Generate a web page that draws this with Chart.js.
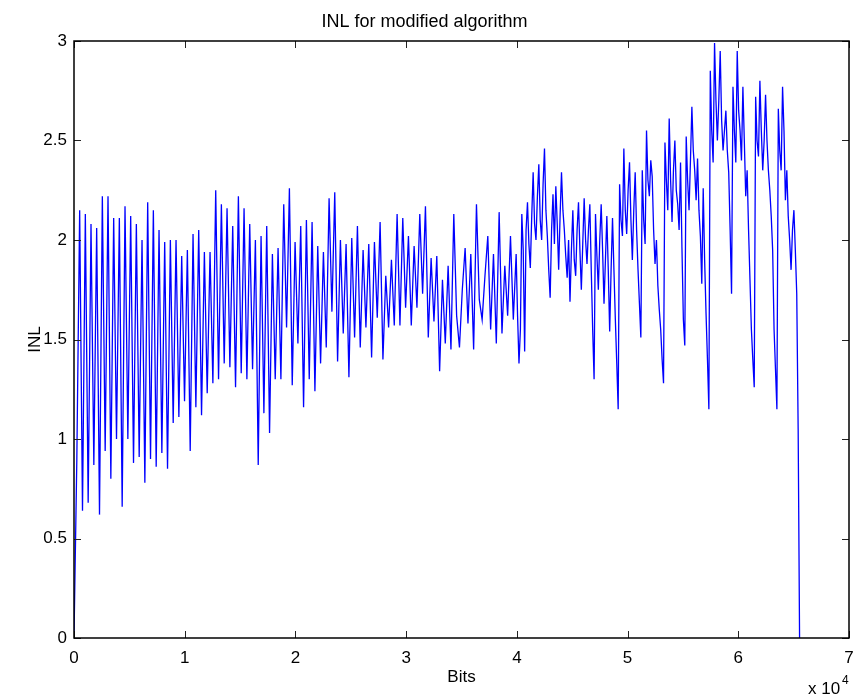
<!DOCTYPE html>
<html>
<head>
<meta charset="utf-8">
<title>INL for modified algorithm</title>
<script src="https://cdn.jsdelivr.net/npm/chart.js@4.4.1/dist/chart.umd.min.js"></script>
<style>
  body { margin: 0; background: #fff; }
  canvas { display: block; }
</style>
</head>
<body>
<canvas id="inlChart" width="854" height="696"></canvas>
<script>
// values. x axis is in units of 10^4 bits.
// first part: one sample every 256 codes (sawtooth teeth, period ~512 codes)
const coarseStep = 256;
const coarseInl = [
  0, 0.9, 2.15, 0.64, 2.13, 0.68, 2.08, 0.87, 2.06, 0.62,
  2.22, 0.94, 2.22, 0.80, 2.11, 1.0, 2.11, 0.66, 2.17, 1.0,
  2.12, 0.88, 2.08, 0.91, 2.0, 0.78, 2.19, 0.90, 2.15, 0.86,
  2.05, 0.93, 1.99, 0.85, 2.0, 1.08, 2.0, 1.11, 1.92, 1.19,
  1.95, 0.94, 2.03, 1.16, 2.05, 1.12, 1.94, 1.23, 1.94, 1.28,
  2.25, 1.30, 2.18, 1.38, 2.16, 1.36, 2.07, 1.26, 2.22, 1.33,
  2.16, 1.30, 2.08, 1.35, 2.0, 0.87, 2.02, 1.13, 2.07, 1.03,
  1.93, 1.30, 1.96, 1.30, 2.18, 1.56, 2.26, 1.27, 1.99, 1.48,
  2.07, 1.16, 2.10, 1.30, 2.09, 1.24, 1.97, 1.38, 1.94, 1.46,
  2.21, 1.64, 2.24, 1.39, 2.0, 1.53, 1.98, 1.31, 2.01, 1.51,
  2.07, 1.46, 1.95, 1.56, 1.98, 1.41, 1.99, 1.61, 2.09, 1.40,
  1.82, 1.56, 1.90, 1.57, 2.13, 1.57, 2.11, 1.66, 2.02, 1.57,
  1.97, 1.66, 2.13, 1.73, 2.17, 1.51, 1.91, 1.59, 1.92, 1.34,
  1.80, 1.48, 1.87, 1.45, 2.13, 1.62, 1.46, 1.75, 1.96, 1.58,
  1.93, 1.45, 2.18, 1.70, 1.60, 1.82, 2.02, 1.55, 1.93, 1.48,
  2.14, 1.53, 1.87, 1.62, 2.02, 1.60
];
// second part (noisier band with deep dips): one sample every 128 codes
const fineStart = 39936;
const fineStep = 128;
const fineInl = [
  1.93, 1.62, 1.38, 1.55, 2.13, 1.95, 1.44, 2.05, 2.19, 1.98,
  1.86, 2.12, 2.34, 2.08, 2.0, 2.22, 2.38, 2.10, 2.0, 2.28,
  2.46, 2.15, 2.02, 1.85, 1.71, 2.05, 2.23, 1.98, 2.27, 2.08,
  1.85, 2.12, 2.34, 2.15, 2.05, 1.92, 1.81, 2.0, 1.69, 1.95,
  2.15, 1.90, 1.82, 2.05, 2.19, 1.95, 1.75, 1.98, 2.21, 2.0,
  1.88, 2.05, 2.18, 1.85, 1.55, 1.30, 2.13, 1.92, 1.75, 2.0,
  2.18, 1.95, 1.68, 1.90, 2.12, 1.85, 1.54, 1.85, 2.11, 1.85,
  1.60, 1.38, 1.15, 2.28, 2.10, 2.02, 2.46, 2.15, 2.03, 2.25,
  2.39, 2.10, 1.90, 2.15, 2.34, 2.05, 1.85, 1.68, 1.51, 2.35,
  2.10, 1.98, 2.55, 2.30, 2.22, 2.40, 2.32, 2.05, 1.88, 2.00,
  1.77, 1.65, 1.55, 1.40, 1.28, 2.49, 2.30, 2.15, 2.61, 2.30,
  2.09, 2.35, 2.50, 2.25, 2.18, 2.05, 2.39, 1.96, 1.60, 1.47,
  2.52, 2.30, 2.15, 2.40, 2.67, 2.45, 2.35, 2.20, 2.41, 2.15,
  2.02, 1.78, 2.26, 1.90, 1.63, 1.40, 1.15, 2.85, 2.55, 2.39,
  2.99, 2.70, 2.50, 2.70, 2.95, 2.60, 2.45, 2.55, 2.65, 2.45,
  2.34, 2.05, 1.73, 2.77, 2.55, 2.39, 2.95, 2.65, 2.55, 2.40,
  2.77, 2.50, 2.22, 2.35, 2.05, 1.80, 1.55, 1.40, 1.26, 2.72,
  2.50, 2.42, 2.80, 2.55, 2.35, 2.50, 2.73, 2.50, 2.35, 2.25,
  2.12, 1.95, 1.55, 1.35, 1.15, 2.66, 2.45, 2.35, 2.77, 2.55,
  2.20, 2.35, 2.12, 2.00, 1.85, 2.05, 2.15, 1.95, 1.73, 1.05,
  0
];
const xTickLabels = ['0', '1', '2', '3', '4', '5', '6', '7'];
const yTickLabels = ['0', '0.5', '1', '1.5', '2', '2.5', '3'];

const points = [];
coarseInl.forEach((v, i) => points.push({ x: i * coarseStep / 1e4, y: v }));
fineInl.forEach((v, j) => points.push({ x: (fineStart + j * fineStep) / 1e4, y: v }));

const fontFamily = '"Liberation Sans", Arial, Helvetica, sans-serif';

// matlab style box with inward ticks + the "x 10^4" exponent
const matlabBox = {
  id: 'matlabBox',
  afterDraw(chart) {
    const { ctx, chartArea: a, scales } = chart;
    ctx.save();
    ctx.strokeStyle = '#222';
    ctx.lineWidth = 1;
    ctx.beginPath();
    scales.x.ticks.forEach(t => {
      const px = Math.round(scales.x.getPixelForValue(t.value)) + 0.5;
      ctx.moveTo(px, a.bottom); ctx.lineTo(px, a.bottom - 7);
      ctx.moveTo(px, a.top); ctx.lineTo(px, a.top + 7);
    });
    scales.y.ticks.forEach(t => {
      const py = Math.round(scales.y.getPixelForValue(t.value)) + 0.5;
      ctx.moveTo(a.left, py); ctx.lineTo(a.left + 7, py);
      ctx.moveTo(a.right, py); ctx.lineTo(a.right - 7, py);
    });
    ctx.stroke();
    ctx.strokeStyle = '#000';
    ctx.lineWidth = 1.5;
    ctx.strokeRect(a.left, a.top, a.right - a.left, a.bottom - a.top);

    ctx.fillStyle = '#000';
    ctx.textBaseline = 'alphabetic';
    ctx.textAlign = 'left';
    ctx.font = '17px ' + fontFamily;
    ctx.fillText('x 10', 808, 694);
    ctx.font = '12px ' + fontFamily;
    ctx.fillText('4', 842, 684);
    ctx.restore();
  }
};

new Chart('inlChart', {
  type: 'scatter',
  data: {
    datasets: [{
      data: points,
      showLine: true,
      borderColor: '#0000ff',
      borderWidth: 1.3,
      pointRadius: 0,
      tension: 0
    }]
  },
  options: {
    responsive: false,
    animation: false,
    layout: { padding: { top: 0, left: 0, right: 5, bottom: 0 } },
    plugins: {
      legend: { display: false },
      tooltip: { enabled: false },
      title: {
        display: true,
        text: 'INL for modified algorithm',
        color: '#000',
        font: { family: fontFamily, size: 18, weight: 'normal' },
        padding: { top: 11, bottom: 8.4 }
      }
    },
    scales: {
      x: {
        type: 'linear',
        min: 0,
        max: 7,
        ticks: {
          stepSize: 1,
          color: '#000',
          padding: 10,
          maxRotation: 0,
          font: { family: fontFamily, size: 17 },
          callback: (v) => xTickLabels[v]
        },
        grid: { display: false, drawTicks: false },
        border: { display: false },
        title: {
          display: true,
          text: 'Bits',
          color: '#000',
          font: { family: fontFamily, size: 17 },
          padding: { top: 0, bottom: 8 }
        },
        afterFit: (scale) => {
          scale.height = 58;
          scale.paddingLeft = 0;
          scale.paddingRight = 0;
        }
      },
      y: {
        min: 0,
        max: 3,
        ticks: {
          stepSize: 0.5,
          color: '#000',
          padding: 7,
          font: { family: fontFamily, size: 17 },
          callback: (v) => yTickLabels[Math.round(v * 2)]
        },
        grid: { display: false, drawTicks: false },
        border: { display: false },
        title: {
          display: true,
          text: 'INL',
          color: '#000',
          font: { family: fontFamily, size: 17 },
          padding: { top: 25, bottom: 0 }
        },
        afterFit: (scale) => { scale.width = 74; }
      }
    }
  },
  plugins: [matlabBox]
});
</script>
</body>
</html>
